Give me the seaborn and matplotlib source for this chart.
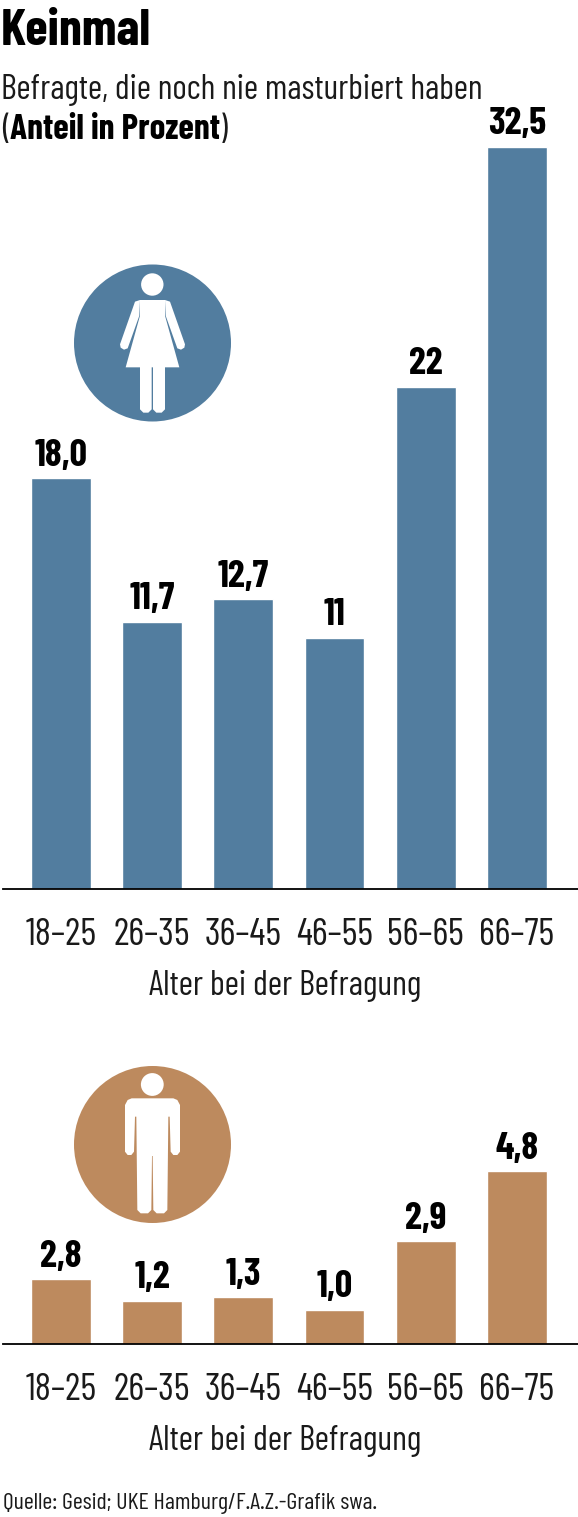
"""Keinmal - Balken Frauen / Maenner"""
import matplotlib
matplotlib.use("Agg")
import matplotlib.pyplot as plt
from matplotlib.patches import Circle, Polygon
import pandas as pd
import seaborn as sns

W, H = 578, 1517
BLUE = "#527d9f"
BROWN = "#bd8a5e"
INK = "#1a1a1a"
FONT = ["Barlow Condensed", "Roboto Condensed", "Liberation Sans", "DejaVu Sans"]

alter = ["18–25", "26–35", "36–45", "46–55", "56–65", "66–75"]
frauen = [18.0, 11.7, 12.7, 11.0, 22.0, 32.5]
frauen_labels = ["18,0", "11,7", "12,7", "11", "22", "32,5"]
# the first brown bar is drawn much lower than its label says
maenner = [1.8, 1.2, 1.3, 0.95, 2.85, 4.8]
maenner_labels = ["2,8", "1,2", "1,3", "1,0", "2,9", "4,8"]

sns.set_style("white")
plt.rcParams["font.family"] = FONT

fig = plt.figure(figsize=(W / 100, H / 100), dpi=100)
fig.patch.set_facecolor("white")


def add_axes(top, bottom):
    return fig.add_axes([3 / W, 1 - bottom / H, 575 / W, (bottom - top) / H])


def bars(ax, values, labels, color, ymax):
    df = pd.DataFrame(dict(alter=alter, wert=values))
    sns.barplot(data=df, x="alter", y="wert", color=color, saturation=1,
                width=0.655, ax=ax)
    ax.set_xlim(-0.635, 5.67)
    ax.set_ylim(0, ymax)
    ax.bar_label(ax.containers[0], labels=labels, padding=4, fontsize=27.5,
                 fontweight="bold", color="black")
    ax.set_yticks([])
    ax.set_ylabel("")
    ax.set_xlabel("Alter bei der Befragung", fontsize=25, color=INK)
    ax.xaxis.set_label_coords(282 / 575, -81 / ax.bbox.height)
    ax.tick_params(axis="x", length=0, pad=21, labelsize=27.5, labelcolor=INK)
    sns.despine(ax=ax, left=True)
    ax.spines["bottom"].set_color("black")
    ax.spines["bottom"].set_linewidth(1.3)
    ax.patch.set_alpha(0)


ax1 = add_axes(100, 889)
bars(ax1, frauen, frauen_labels, BLUE, 789 / 22.83)
ax2 = add_axes(1100, 1344)
bars(ax2, maenner, maenner_labels, BROWN, 244 / 36.0)

# overlay in pixels for texts and icons
ov = fig.add_axes([0, 0, 1, 1])
ov.set_xlim(0, W)
ov.set_ylim(H, 0)
ov.axis("off")
ov.patch.set_alpha(0)

ov.text(1, 31, "Keinmal", fontsize=37, fontweight="bold", va="center", color="black")
ov.text(1, 90, "Befragte, die noch nie masturbiert haben", fontsize=24.8,
        va="center", color=INK)
ov.text(2, 130, "(", fontsize=25, va="center", color=INK)
ov.text(10, 130, "Anteil in Prozent", fontsize=25.5, fontweight="bold",
        va="center", color="black")
ov.text(220, 130, ")", fontsize=25, va="center", color=INK)
ov.text(3, 1503, "Quelle: Gesid; UKE Hamburg/F.A.Z.-Grafik swa.", fontsize=17.3,
        va="center", color=INK)


def shape(pts, y0, color="white"):
    xy = [(60 + x / 3, y0 + y / 3) for x, y in pts]
    ov.add_patch(Polygon(xy, closed=True, facecolor=color, edgecolor="none"))


# Frau
ov.add_patch(Circle((152.5, 343), 78.5, color=BLUE, lw=0))
ov.add_patch(Circle((152.3, 284.5), 11.2, color="white", lw=0))
shape([(240, 150), (315, 150), (315, 197), (358, 352), (197, 352), (240, 197)], 250)
shape([(240, 150), (225, 155), (180, 283), (182, 293), (192, 299), (203, 295),
       (238, 197)], 250)
shape([(315, 150), (330, 155), (375, 283), (373, 293), (363, 299), (352, 295),
       (317, 197)], 250)
shape([(240, 350), (275, 350), (275, 478), (265, 488), (250, 488), (240, 478)], 250)
shape([(279, 350), (315, 350), (315, 478), (305, 488), (289, 488), (279, 478)], 250)

# Mann
ov.add_patch(Circle((152.5, 1144.5), 78.5, color=BROWN, lw=0))
ov.add_patch(Circle((152.3, 1084.5), 11.4, color="white", lw=0))
shape([(215, 145), (340, 145), (352, 150), (360, 165), (360, 305), (352, 315),
       (340, 315), (332, 305), (329, 200), (325, 200), (322, 480), (312, 490),
       (290, 490), (280, 480), (278, 318), (276, 318), (274, 480), (264, 490),
       (242, 490), (232, 480), (229, 200), (225, 200), (222, 305), (214, 315),
       (203, 315), (195, 305), (195, 165), (203, 150)], 1050)

fig.savefig("out.png", dpi=100)
plt.close(fig)
